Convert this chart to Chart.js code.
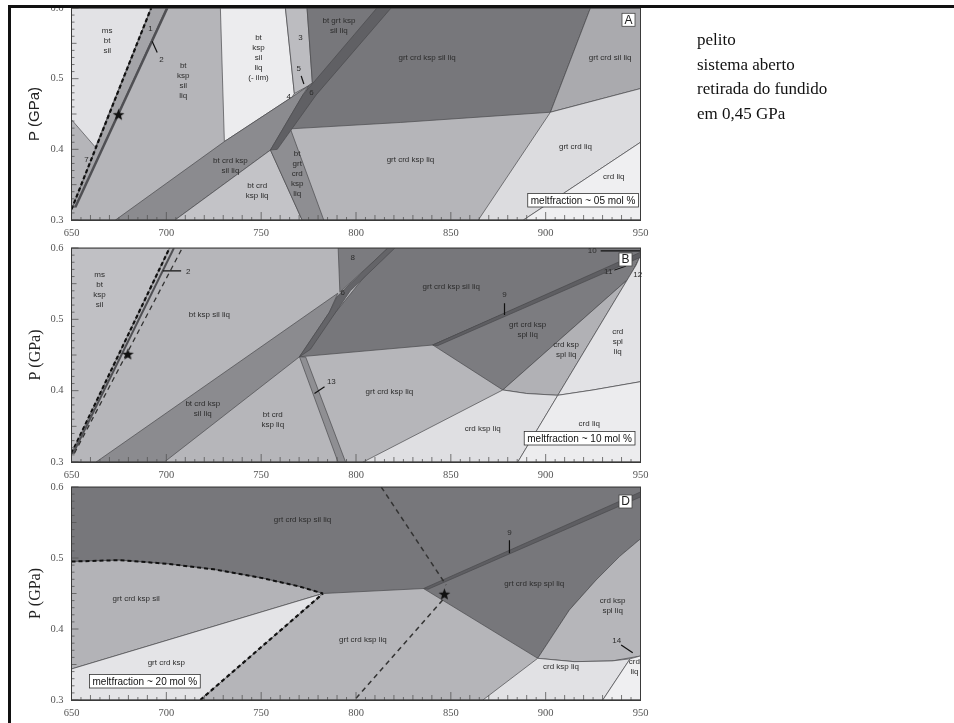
<!DOCTYPE html>
<html>
<head>
<meta charset="utf-8">
<script src="https://cdn.jsdelivr.net/npm/chart.js@4.4.0/dist/chart.umd.min.js"></script>
<style>
  body { margin: 0; background: #fff; width: 954px; height: 723px; overflow: hidden; position: relative; }
  canvas { position: absolute; left: 0; }
  #corte { position: absolute; left: 0; top: 0; width: 954px; height: 5px; background: #fff; }
  #moldura { position: absolute; left: 8px; top: 5px; width: 960px; height: 740px;
             border-top: 3px solid #111; border-left: 3px solid #111; pointer-events: none; }
  #nota { position: absolute; left: 697px; top: 28px; font: 17px "Liberation Serif"; line-height: 24.5px; color: #111; }
</style>
</head>
<body>
<canvas id="grafA" width="650" height="242" style="top:0"></canvas>
<canvas id="grafB" width="650" height="246" style="top:238px"></canvas>
<canvas id="grafD" width="650" height="245" style="top:477px"></canvas>
<div id="corte"></div>
<div id="moldura"></div>
<div id="nota">pelito<br>sistema aberto<br>retirada do fundido<br>em 0,45 GPa</div>

<script>
// eixos: temperatura (°C) x pressão (GPa)
const TEMP_TICKS = [650, 700, 750, 800, 850, 900, 950];
const P_TICKS = [0.3, 0.4, 0.5, 0.6];

// ---- painel A (fração de fundido ~05 mol %) ----
const A_fundo = [[650, 0.3], [950, 0.3], [950, 0.6], [650, 0.6]];
const A_msBtSil = [[650, 0.6], [692, 0.6], [662.6, 0.403], [650, 0.442]];
const A_campo1 = [[650.5, 0.318], [692, 0.6], [700, 0.6], [652, 0.318]];
const A_ilm = [[728.5, 0.6], [762.8, 0.6], [767.5, 0.479], [766.3, 0.474], [730.6, 0.411]];
const A_campo3 = [[762.8, 0.6], [774.2, 0.6], [777, 0.494], [775, 0.49], [767.5, 0.479]];
const A_grtCrdKspSilLiq = [[774.2, 0.6], [923.6, 0.6], [902.5, 0.4525], [823.4, 0.438], [765.4, 0.429], [775, 0.49], [777, 0.494]];
const A_grtCrdSilLiq = [[923.6, 0.6], [950, 0.6], [950, 0.486], [902.5, 0.4525]];
const A_grtCrdLiq = [[902.5, 0.4525], [950, 0.486], [950, 0.41], [888.3, 0.3], [864.5, 0.3]];
const A_crdLiq = [[888.3, 0.3], [950, 0.41], [950, 0.3]];
const A_btCrdKspSilLiq = [[673.2, 0.3], [704.6, 0.3], [754.9, 0.399], [772, 0.477], [775, 0.49], [766.3, 0.474], [730.6, 0.411]];
const A_btCrdKspLiq = [[704.6, 0.3], [754.9, 0.399], [771.6, 0.3]];
const A_btGrtCrdKspLiq = [[754.9, 0.399], [765.4, 0.429], [783, 0.3], [771.6, 0.3]];
const A_campo6 = [[754.9, 0.399], [772, 0.477], [811, 0.6], [818.5, 0.6], [779, 0.477], [758.5, 0.4]];
const A_tracejada = [[650, 0.315], [692, 0.6]];
const A_linha2 = [[652, 0.318], [700.5, 0.6]];
const A_estrela = [[674.8, 0.449]];
const A_guia2 = [[692.5, 0.553], [695.2, 0.537]];
const A_guia5 = [[771.1, 0.504], [772.5, 0.4925]];
const A_rotulos = [
  ['ms\nbt\nsil', 668.8, 0.553], ['1', 691.6, 0.57], ['2', 697.5, 0.527], ['7', 657.9, 0.385],
  ['bt\nksp\nsil\nliq', 708.9, 0.497], ['bt\nksp\nsil\nliq\n(- ilm)', 748.6, 0.53],
  ['3', 770.7, 0.558], ['5', 769.8, 0.514], ['4', 764.5, 0.474], ['6', 776.5, 0.48],
  ['bt grt ksp\nsil liq', 791, 0.575], ['grt crd ksp sil liq', 837.5, 0.53],
  ['grt crd sil liq', 934, 0.53], ['grt crd ksp liq', 828.7, 0.3845], ['grt crd liq', 915.7, 0.403],
  ['crd liq', 935.9, 0.361], ['bt crd ksp\nsil liq', 733.8, 0.376], ['bt crd\nksp liq', 747.9, 0.342],
  ['bt\ngrt\ncrd\nksp\nliq', 769, 0.366]
];

// ---- painel B (fração de fundido ~10 mol %) ----
const B_fundo = [[650, 0.3], [950, 0.3], [950, 0.6], [650, 0.6]];
const B_msBtKspSil = [[650, 0.312], [650, 0.6], [701.7, 0.6]];
const B_btCrdKspSilLiq = [[663, 0.3], [699, 0.3], [770.2, 0.4475], [786, 0.51], [790.4, 0.5366]];
const B_campo8 = [[790.6, 0.6], [817, 0.6], [791.5, 0.538]];
const B_grtCrdKspSilLiq = [[816.7, 0.6], [950, 0.6], [950, 0.592], [840.5, 0.464], [770.2, 0.4475]];
const B_grtCrdKspSplLiq = [[840.5, 0.464], [950, 0.591], [948.5, 0.581], [944, 0.5576], [877.4, 0.401]];
const B_crdKspSplLiq = [[877.4, 0.401], [890, 0.396], [906.4, 0.3935], [947.7, 0.576], [948.5, 0.581], [944, 0.5576]];
const B_crdSplLiq = [[906.4, 0.3935], [925, 0.401], [950, 0.4126], [950, 0.59], [947.7, 0.576]];
const B_crdKspLiq = [[803.8, 0.3], [877.4, 0.401], [890, 0.396], [906.4, 0.3935], [885.3, 0.3]];
const B_crdLiq = [[885.3, 0.3], [906.4, 0.3935], [925, 0.401], [950, 0.4126], [950, 0.3]];
const B_campo13 = [[770.2, 0.4475], [773.5, 0.447], [794.5, 0.3], [790.5, 0.3]];
const B_campo6 = [[770.2, 0.4475], [786, 0.51], [790, 0.532], [816.7, 0.6], [820.5, 0.6], [797, 0.54], [776, 0.458]];
const B_campo9 = [[840.5, 0.464], [950, 0.594], [950, 0.587], [843, 0.463]];
const B_tracejada1 = [[650, 0.312], [701.7, 0.6]];
const B_linha = [[650.8, 0.312], [704, 0.6]];
const B_tracejada2 = [[651.5, 0.312], [708.4, 0.6]];
const B_estrela = [[679.7, 0.451]];
const B_guia2 = [[698.1, 0.568], [707.8, 0.568]];
const B_guia9 = [[878.3, 0.5226], [878.3, 0.506]];
const B_guia13 = [[778.1, 0.396], [783.4, 0.4056]];
const B_guia10 = [[929, 0.596], [950, 0.596]];
const B_guia11 = [[936.2, 0.569], [942.4, 0.5746]];
const B_rotulos = [
  ['ms\nbt\nksp\nsil', 664.8, 0.541], ['2', 711.5, 0.566], ['bt ksp sil liq', 722.7, 0.506],
  ['bt crd ksp\nsil liq', 719.2, 0.375], ['bt crd\nksp liq', 756.1, 0.359], ['8', 798.3, 0.586],
  ['6', 793, 0.5366], ['grt crd ksp sil liq', 850.2, 0.546], ['9', 878.3, 0.534],
  ['grt crd ksp\nspl liq', 890.5, 0.485], ['crd ksp\nspl liq', 910.8, 0.457], ['crd\nspl\nliq', 938, 0.469],
  ['grt crd ksp liq', 817.6, 0.3986], ['crd ksp liq', 866.8, 0.347], ['crd liq', 923, 0.354],
  ['13', 787, 0.413], ['10', 924.5, 0.596], ['11', 933, 0.566], ['12', 948.5, 0.563]
];

// ---- painel D (fração de fundido ~20 mol %) ----
const D_fundo = [[650, 0.3], [950, 0.3], [950, 0.6], [650, 0.6]];
const D_topo = [[650, 0.6], [950, 0.6], [950, 0.527], [938.9, 0.502], [926.6, 0.469], [912.5, 0.4268], [895.8, 0.3587],
  [835.6, 0.457], [782.6, 0.45], [770, 0.46], [750, 0.472], [725, 0.484], [700, 0.492], [675, 0.497], [650, 0.495]];
const D_grtCrdKspSil = [[650, 0.495], [675, 0.497], [700, 0.492], [725, 0.484], [750, 0.472], [770, 0.46], [782.6, 0.45], [650, 0.3437]];
const D_grtCrdKsp = [[650, 0.3437], [782.6, 0.45], [717.9, 0.3], [650, 0.3]];
const D_crdKspSplLiq = [[895.8, 0.3587], [912.5, 0.4268], [926.6, 0.469], [938.9, 0.502], [950, 0.527], [950, 0.362], [935, 0.355], [915, 0.354]];
const D_crdKspLiq = [[866.9, 0.3], [895.8, 0.3587], [915, 0.354], [935, 0.355], [944.5, 0.358], [930.1, 0.3]];
const D_crdLiq = [[930.1, 0.3], [944.5, 0.358], [950, 0.362], [950, 0.3]];
const D_campo9 = [[835.6, 0.457], [950, 0.593], [950, 0.586], [838, 0.456]];
const D_curva = [[650, 0.495], [675, 0.497], [700, 0.492], [725, 0.484], [750, 0.472], [770, 0.46], [782.6, 0.45]];
const D_tracejadaBaixa = [[717.9, 0.3], [782.6, 0.45]];
const D_tracejadaSup = [[813.3, 0.6], [847.5, 0.462]];
const D_tracejadaInf = [[845.7, 0.441], [799.2, 0.3]];
const D_estrela = [[846.6, 0.449]];
const D_guia9 = [[880.9, 0.525], [880.9, 0.5066]];
const D_guia14 = [[939.8, 0.3775], [945.9, 0.3666]];
const D_rotulos = [
  ['grt crd ksp sil liq', 771.8, 0.5535], ['grt crd ksp sil', 684.1, 0.442], ['grt crd ksp', 700, 0.3525],
  ['grt crd ksp liq', 803.6, 0.3845], ['grt crd ksp spl liq', 894, 0.464], ['crd ksp\nspl liq', 935.3, 0.432],
  ['crd ksp liq', 908.1, 0.347], ['crd\nliq', 946.8, 0.347], ['9', 880.9, 0.536], ['14', 937.5, 0.384]
];

// estrela preenchida para o ponto marcado
const imgEstrela = document.createElement('canvas');
imgEstrela.width = 13; imgEstrela.height = 13;
(function () {
  const c = imgEstrela.getContext('2d');
  c.fillStyle = '#111';
  c.beginPath();
  for (let i = 0; i < 10; i++) {
    const r = i % 2 === 0 ? 6.2 : 2.6;
    const a = -Math.PI / 2 + i * Math.PI / 5;
    const px = 6.5 + r * Math.cos(a), py = 6.8 + r * Math.sin(a);
    if (i === 0) c.moveTo(px, py); else c.lineTo(px, py);
  }
  c.closePath();
  c.fill();
})();

function pontos(pts) { return pts.map(p => ({ x: p[0], y: p[1] })); }

function campo(pts, cor) {
  const d = pontos(pts);
  d.push({ x: d[0].x, y: d[0].y });
  return { data: d, showLine: true, fill: 'shape', backgroundColor: cor, borderColor: '#4a4a4e',
           borderWidth: 0.7, pointRadius: 0, pointHoverRadius: 0, tension: 0 };
}
function linha(pts, cor, larg, tracos) {
  return { data: pontos(pts), showLine: true, fill: false, borderColor: cor, borderWidth: larg,
           borderDash: tracos || [], pointRadius: 0, pointHoverRadius: 0, tension: 0 };
}
function estrela(pts) {
  return { data: pontos(pts), showLine: false, pointStyle: imgEstrela, pointRadius: 6, pointHoverRadius: 6 };
}

// texto dos campos, tiques menores, caixas
const extrasPlugin = {
  id: 'extras',
  afterDatasetsDraw(chart, args, opts) {
    const { ctx, chartArea: a, scales: { x, y } } = chart;
    ctx.save();
    ctx.strokeStyle = '#555';
    ctx.lineWidth = 0.8;
    ctx.beginPath();
    for (let t = 650; t <= 950; t += 5) {
      const px = x.getPixelForValue(t);
      const len = t % 50 === 0 ? 8 : (t % 10 === 0 ? 5 : 3);
      ctx.moveTo(px, a.bottom); ctx.lineTo(px, a.bottom - len);
    }
    for (let i = 0; i <= 30; i++) {
      const py = y.getPixelForValue(0.3 + i * 0.01);
      const len = i % 10 === 0 ? 7 : (i % 5 === 0 ? 5 : 3);
      ctx.moveTo(a.left, py); ctx.lineTo(a.left + len, py);
    }
    ctx.stroke();
    ctx.strokeStyle = '#3a3a3a';
    ctx.lineWidth = 1;
    ctx.strokeRect(a.left, a.top, a.width, a.height);

    ctx.fillStyle = '#2c2c2c';
    ctx.font = '8px "Liberation Sans"';
    ctx.textAlign = 'center';
    ctx.textBaseline = 'middle';
    for (const [txt, t, p] of opts.rotulos) {
      const ls = txt.split('\n');
      const cx = x.getPixelForValue(t), cy = y.getPixelForValue(p);
      ls.forEach((l, i) => ctx.fillText(l, cx, cy + (i - (ls.length - 1) / 2) * 10));
    }

    // caixa da fração de fundido
    const cx = opts.caixa;
    ctx.font = '10px "Liberation Sans"';
    const w = ctx.measureText(cx.texto).width + 6, h = 13.5;
    const bx = cx.lado === 'dir' ? a.right - cx.dx - w : a.left + cx.dx;
    const by = a.bottom - cx.dy - h;
    ctx.fillStyle = '#fff';
    ctx.fillRect(bx, by, w, h);
    ctx.strokeStyle = '#333';
    ctx.lineWidth = 0.8;
    ctx.strokeRect(bx, by, w, h);
    ctx.fillStyle = '#111';
    ctx.textAlign = 'left';
    ctx.fillText(cx.texto, bx + 3, by + h / 2 + 0.5);

    // letra do painel
    const lt = opts.letra;
    const lx = a.right - lt.dx - 13, ly = a.top + lt.dy;
    ctx.fillStyle = '#fff';
    ctx.fillRect(lx, ly, 13, 13);
    ctx.strokeStyle = '#444';
    ctx.strokeRect(lx, ly, 13, 13);
    ctx.fillStyle = '#222';
    ctx.font = '12px "Liberation Sans"';
    ctx.textAlign = 'center';
    ctx.fillText(lt.texto, lx + 6.5, ly + 7);
    ctx.restore();
  }
};

function montar(id, camadas, extras, topo, fonteTitulo) {
  const datasets = camadas.slice().reverse(); // chart.js desenha o primeiro por cima
  return new Chart(document.getElementById(id), {
    type: 'scatter',
    data: { datasets },
    options: {
      responsive: false,
      animation: false,
      events: [],
      layout: { padding: { top: topo, right: 9.5, left: 0, bottom: 0 } },
      plugins: { legend: { display: false }, tooltip: { enabled: false }, extras },
      scales: {
        x: {
          type: 'linear', min: 650, max: 950,
          afterBuildTicks: s => { s.ticks = TEMP_TICKS.map(v => ({ value: v })); },
          grid: { display: false, drawTicks: false },
          border: { display: true, color: '#3a3a3a' },
          ticks: { padding: 7, color: '#555', font: { family: 'Liberation Serif', size: 10.5 } },
          afterFit: s => { s.height = 22; s.paddingLeft = 0; s.paddingRight = 0; }
        },
        y: {
          type: 'linear', min: 0.3, max: 0.6,
          afterBuildTicks: s => { s.ticks = P_TICKS.map(v => ({ value: v })); },
          grid: { display: false, drawTicks: false },
          border: { display: true, color: '#3a3a3a' },
          ticks: { padding: 8, color: '#555', font: { family: 'Liberation Serif', size: 10.5 },
                   callback: v => Number(v).toFixed(1) },
          title: { display: true, text: 'P (GPa)', color: '#222', font: fonteTitulo, padding: { top: 26, bottom: 0 } },
          afterFit: s => { s.width = 71.5; s.paddingTop = 0; s.paddingBottom = 0; }
        }
      }
    },
    plugins: [extrasPlugin]
  });
}

const C_TRACO = '#111';

montar('grafA', [
  campo(A_fundo, '#b5b5b9'),
  campo(A_msBtSil, '#e2e2e5'),
  campo(A_campo1, '#a4a4a8'),
  campo(A_ilm, '#ececee'),
  campo(A_campo3, '#bcbcc0'),
  campo(A_grtCrdKspSilLiq, '#77777b'),
  campo(A_grtCrdSilLiq, '#aaaaae'),
  campo(A_grtCrdLiq, '#dcdcdf'),
  campo(A_crdLiq, '#efeff1'),
  campo(A_btCrdKspSilLiq, '#8b8b8f'),
  campo(A_btCrdKspLiq, '#c3c3c7'),
  campo(A_btGrtCrdKspLiq, '#8e8e92'),
  campo(A_campo6, '#606064'),
  linha(A_tracejada, C_TRACO, 2.2, [4, 2.5]),
  linha(A_linha2, '#505054', 2.5),
  linha(A_guia2, '#111', 1.2),
  linha(A_guia5, '#111', 1.2),
  estrela(A_estrela)
], {
  rotulos: A_rotulos,
  caixa: { texto: 'meltfraction ~ 05 mol %', lado: 'dir', dx: 2, dy: 13 },
  letra: { texto: 'A', dx: 5.5, dy: 5.3 }
}, 8, { family: 'Liberation Sans', size: 15 });

montar('grafB', [
  campo(B_fundo, '#b6b6ba'),
  campo(B_msBtKspSil, '#c0c0c4'),
  campo(B_btCrdKspSilLiq, '#8b8b8f'),
  campo(B_campo8, '#7b7b7f'),
  campo(B_grtCrdKspSilLiq, '#77777b'),
  campo(B_grtCrdKspSplLiq, '#7c7c80'),
  campo(B_crdKspSplLiq, '#b1b1b5'),
  campo(B_crdSplLiq, '#e2e2e5'),
  campo(B_crdKspLiq, '#dfdfe2'),
  campo(B_crdLiq, '#ececee'),
  campo(B_campo13, '#8f8f93'),
  campo(B_campo6, '#646468'),
  campo(B_campo9, '#5e5e62'),
  linha(B_tracejada1, C_TRACO, 2.2, [4, 2.5]),
  linha(B_linha, '#505054', 2),
  linha(B_tracejada2, '#333', 1.3, [5, 4]),
  linha(B_guia2, '#111', 1.2),
  linha(B_guia9, '#111', 1.2),
  linha(B_guia13, '#111', 1.2),
  linha(B_guia10, '#111', 1.2),
  linha(B_guia11, '#111', 1),
  estrela(B_estrela)
], {
  rotulos: B_rotulos,
  caixa: { texto: 'meltfraction ~ 10 mol %', lado: 'dir', dx: 5.5, dy: 17 },
  letra: { texto: 'B', dx: 8.5, dy: 5 }
}, 10, { family: 'Liberation Serif', size: 16 });

montar('grafD', [
  campo(D_fundo, '#b5b5b9'),
  campo(D_topo, '#77777b'),
  campo(D_grtCrdKspSil, '#b3b3b7'),
  campo(D_grtCrdKsp, '#e4e4e7'),
  campo(D_crdKspSplLiq, '#b6b6ba'),
  campo(D_crdKspLiq, '#e1e1e4'),
  campo(D_crdLiq, '#efeff1'),
  campo(D_campo9, '#5e5e62'),
  linha(D_curva, C_TRACO, 2, [4, 3]),
  linha(D_tracejadaBaixa, C_TRACO, 2.2, [4, 3]),
  linha(D_tracejadaSup, '#333', 1.5, [5, 4]),
  linha(D_tracejadaInf, '#333', 1.5, [5, 4]),
  linha(D_guia9, '#111', 1.2),
  linha(D_guia14, '#111', 1.2),
  estrela(D_estrela)
], {
  rotulos: D_rotulos,
  caixa: { texto: 'meltfraction ~ 20 mol %', lado: 'esq', dx: 18, dy: 12 },
  letra: { texto: 'D', dx: 8.5, dy: 8 }
}, 10, { family: 'Liberation Serif', size: 16 });
</script>
</body>
</html>
